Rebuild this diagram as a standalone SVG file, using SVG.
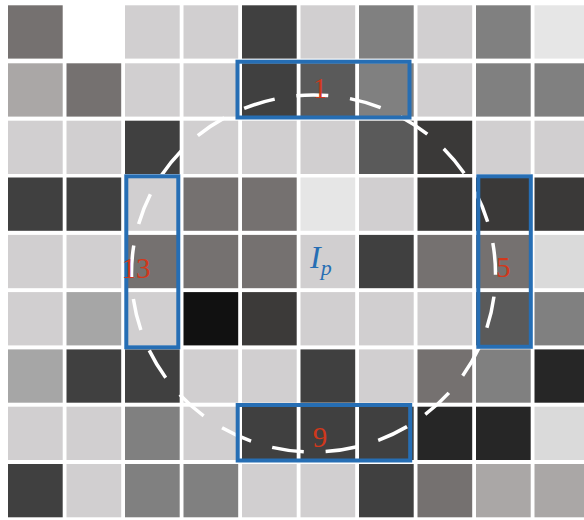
<svg xmlns="http://www.w3.org/2000/svg" width="584" height="520" viewBox="0 0 584 520">
<style>
.c{stroke:none}
.a{fill:#d1cfd0}.b{fill:#404040}.m{fill:#808080}.t{fill:#757170}.k{fill:#5a5a5a}.d{fill:#3a3938}.v{fill:#e6e6e6}.s{fill:#aaa7a6}.g{fill:#a6a6a6}.x{fill:#262626}.z{fill:#111111}.w{fill:#ffffff}.q{fill:#dadada}.e{fill:#3c3a39}
.box{fill:none;stroke:#266eb4;stroke-width:4}
.lbl{font-family:"Liberation Serif","DejaVu Serif",serif;font-size:29px;fill:#d0381c;text-anchor:middle}
.ip{font-family:"Liberation Serif","DejaVu Serif",serif;font-style:italic;fill:#266eb4}
</style>
<rect width="584" height="520" fill="#ffffff"/>
<g id="grid">
<g transform="translate(8,5.3)">
<rect class="t" x="0" y="0" width="54.7" height="53.3"/>
<rect class="w" x="58.5" y="0" width="54.7" height="53.3"/>
<rect class="a" x="117" y="0" width="54.7" height="53.3"/>
<rect class="a" x="175.5" y="0" width="54.7" height="53.3"/>
<rect class="b" x="234" y="0" width="54.7" height="53.3"/>
<rect class="a" x="292.5" y="0" width="54.7" height="53.3"/>
<rect class="m" x="351" y="0" width="54.7" height="53.3"/>
<rect class="a" x="409.5" y="0" width="54.7" height="53.3"/>
<rect class="m" x="468" y="0" width="54.7" height="53.3"/>
<rect class="v" x="526.5" y="0" width="54.7" height="53.3"/>
</g>
<g transform="translate(8,63.3)">
<rect class="s" x="0" y="0" width="54.7" height="53.3"/>
<rect class="t" x="58.5" y="0" width="54.7" height="53.3"/>
<rect class="a" x="117" y="0" width="54.7" height="53.3"/>
<rect class="a" x="175.5" y="0" width="54.7" height="53.3"/>
<rect class="b" x="234" y="0" width="54.7" height="53.3"/>
<rect class="k" x="292.5" y="0" width="54.7" height="53.3"/>
<rect class="m" x="351" y="0" width="54.7" height="53.3"/>
<rect class="a" x="409.5" y="0" width="54.7" height="53.3"/>
<rect class="m" x="468" y="0" width="54.7" height="53.3"/>
<rect class="m" x="526.5" y="0" width="54.7" height="53.3"/>
</g>
<g transform="translate(8,120.7)">
<rect class="a" x="0" y="0" width="54.7" height="53.3"/>
<rect class="a" x="58.5" y="0" width="54.7" height="53.3"/>
<rect class="b" x="117" y="0" width="54.7" height="53.3"/>
<rect class="a" x="175.5" y="0" width="54.7" height="53.3"/>
<rect class="a" x="234" y="0" width="54.7" height="53.3"/>
<rect class="a" x="292.5" y="0" width="54.7" height="53.3"/>
<rect class="k" x="351" y="0" width="54.7" height="53.3"/>
<rect class="d" x="409.5" y="0" width="54.7" height="53.3"/>
<rect class="a" x="468" y="0" width="54.7" height="53.3"/>
<rect class="a" x="526.5" y="0" width="54.7" height="53.3"/>
</g>
<g transform="translate(8,177.5)">
<rect class="b" x="0" y="0" width="54.7" height="53.3"/>
<rect class="b" x="58.5" y="0" width="54.7" height="53.3"/>
<rect class="a" x="117" y="0" width="54.7" height="53.3"/>
<rect class="t" x="175.5" y="0" width="54.7" height="53.3"/>
<rect class="t" x="234" y="0" width="54.7" height="53.3"/>
<rect class="v" x="292.5" y="0" width="54.7" height="53.3"/>
<rect class="a" x="351" y="0" width="54.7" height="53.3"/>
<rect class="d" x="409.5" y="0" width="54.7" height="53.3"/>
<rect class="d" x="468" y="0" width="54.7" height="53.3"/>
<rect class="d" x="526.5" y="0" width="54.7" height="53.3"/>
</g>
<g transform="translate(8,234.9)">
<rect class="a" x="0" y="0" width="54.7" height="53.3"/>
<rect class="a" x="58.5" y="0" width="54.7" height="53.3"/>
<rect class="t" x="117" y="0" width="54.7" height="53.3"/>
<rect class="t" x="175.5" y="0" width="54.7" height="53.3"/>
<rect class="t" x="234" y="0" width="54.7" height="53.3"/>
<rect class="a" x="292.5" y="0" width="54.7" height="53.3"/>
<rect class="b" x="351" y="0" width="54.7" height="53.3"/>
<rect class="t" x="409.5" y="0" width="54.7" height="53.3"/>
<rect class="t" x="468" y="0" width="54.7" height="53.3"/>
<rect class="q" x="526.5" y="0" width="54.7" height="53.3"/>
</g>
<g transform="translate(8,292.1)">
<rect class="a" x="0" y="0" width="54.7" height="53.3"/>
<rect class="g" x="58.5" y="0" width="54.7" height="53.3"/>
<rect class="a" x="117" y="0" width="54.7" height="53.3"/>
<rect class="z" x="175.5" y="0" width="54.7" height="53.3"/>
<rect class="e" x="234" y="0" width="54.7" height="53.3"/>
<rect class="a" x="292.5" y="0" width="54.7" height="53.3"/>
<rect class="a" x="351" y="0" width="54.7" height="53.3"/>
<rect class="a" x="409.5" y="0" width="54.7" height="53.3"/>
<rect class="k" x="468" y="0" width="54.7" height="53.3"/>
<rect class="m" x="526.5" y="0" width="54.7" height="53.3"/>
</g>
<g transform="translate(8,349.4)">
<rect class="g" x="0" y="0" width="54.7" height="53.3"/>
<rect class="b" x="58.5" y="0" width="54.7" height="53.3"/>
<rect class="b" x="117" y="0" width="54.7" height="53.3"/>
<rect class="a" x="175.5" y="0" width="54.7" height="53.3"/>
<rect class="a" x="234" y="0" width="54.7" height="53.3"/>
<rect class="b" x="292.5" y="0" width="54.7" height="53.3"/>
<rect class="a" x="351" y="0" width="54.7" height="53.3"/>
<rect class="t" x="409.5" y="0" width="54.7" height="53.3"/>
<rect class="m" x="468" y="0" width="54.7" height="53.3"/>
<rect class="x" x="526.5" y="0" width="54.7" height="53.3"/>
</g>
<g transform="translate(8,406.7)">
<rect class="a" x="0" y="0" width="54.7" height="53.3"/>
<rect class="a" x="58.5" y="0" width="54.7" height="53.3"/>
<rect class="m" x="117" y="0" width="54.7" height="53.3"/>
<rect class="a" x="175.5" y="0" width="54.7" height="53.3"/>
<rect class="b" x="234" y="0" width="54.7" height="53.3"/>
<rect class="b" x="292.5" y="0" width="54.7" height="53.3"/>
<rect class="b" x="351" y="0" width="54.7" height="53.3"/>
<rect class="x" x="409.5" y="0" width="54.7" height="53.3"/>
<rect class="x" x="468" y="0" width="54.7" height="53.3"/>
<rect class="q" x="526.5" y="0" width="54.7" height="53.3"/>
</g>
<g transform="translate(8,464)">
<rect class="b" x="0" y="0" width="54.7" height="53.3"/>
<rect class="a" x="58.5" y="0" width="54.7" height="53.3"/>
<rect class="m" x="117" y="0" width="54.7" height="53.3"/>
<rect class="m" x="175.5" y="0" width="54.7" height="53.3"/>
<rect class="a" x="234" y="0" width="54.7" height="53.3"/>
<rect class="a" x="292.5" y="0" width="54.7" height="53.3"/>
<rect class="b" x="351" y="0" width="54.7" height="53.3"/>
<rect class="t" x="409.5" y="0" width="54.7" height="53.3"/>
<rect class="s" x="468" y="0" width="54.7" height="53.3"/>
<rect class="s" x="526.5" y="0" width="54.7" height="53.3"/>
</g>
</g>
<g id="connectors">
<ellipse cx="313.5" cy="273.5" rx="182" ry="178.5" fill="none" stroke="#ffffff" stroke-width="3.5" pathLength="1134" stroke-dasharray="32 22" stroke-dashoffset="30.7"/>
</g>
<g id="box-1"><rect class="box" x="237.5" y="61.7" width="172" height="55.8"/><text class="lbl" x="320" y="98.3">1</text></g>
<g id="box-5"><rect class="box" x="478.3" y="176.3" width="52.5" height="170.5"/><text class="lbl" x="503.3" y="276.7">5</text></g>
<g id="box-9"><rect class="box" x="237.7" y="405" width="172.5" height="55.5"/><text class="lbl" x="320" y="446.7">9</text></g>
<g id="box-13"><rect class="box" x="126.3" y="176.3" width="52" height="171"/><text class="lbl" x="136" y="278.3">13</text></g>
<g id="center-p"><text class="ip" x="310" y="268.3" font-size="32">I<tspan font-size="22" dy="7">p</tspan></text></g>
</svg>
